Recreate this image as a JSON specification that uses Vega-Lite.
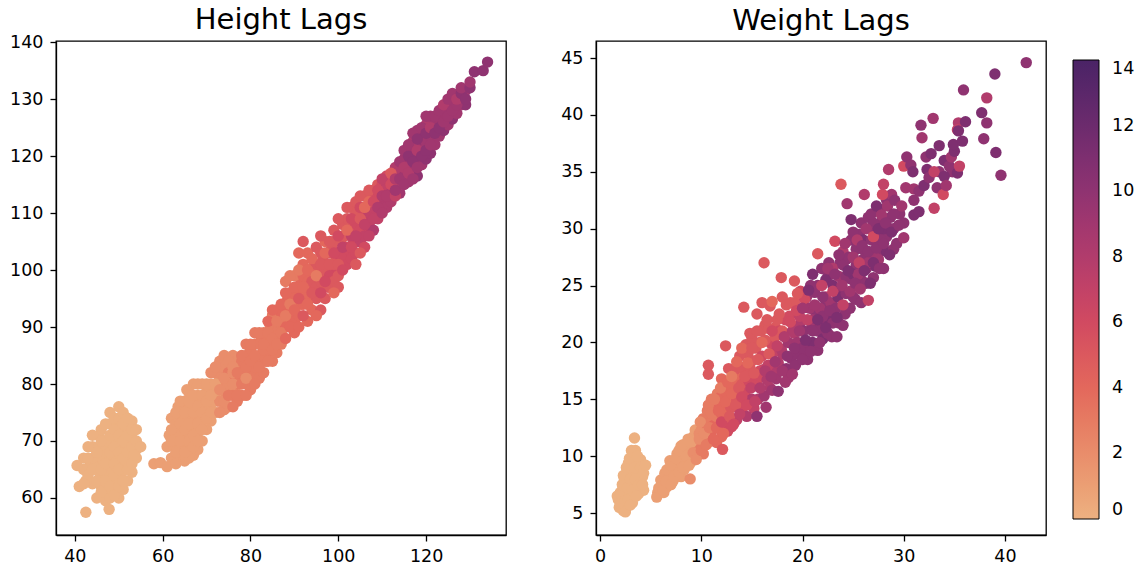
{"$schema":"https://vega.github.io/schema/vega-lite/v6.json","padding":{"left":8,"top":5,"right":5,"bottom":3},"background":"white","spacing":53,
"config":{"font":"DejaVu Sans","view":{"stroke":"#000","strokeWidth":1.3},"axis":{"grid":false,"title":null,"domainColor":"#000","domainWidth":1.3,"tickColor":"#000","tickWidth":1.3,"tickSize":6,"labelColor":"#000","labelFontSize":17.5,"labelPadding":7},"axisX":{"labelPadding":6},"title":{"fontSize":29,"fontWeight":"normal","color":"#000"}},
"datasets":{
"h":[{"x":46.5,"y":64.5,"a":0},{"x":47.5,"y":66.5,"a":0},{"x":48.5,"y":69.5,"a":0},{"x":50.5,"y":64,"a":0},{"x":50.5,"y":70,"a":0},{"x":45.5,"y":69,"a":0},{"x":45.5,"y":64.5,"a":0},{"x":43.5,"y":66,"a":0},{"x":49.5,"y":61,"a":0},{"x":52.5,"y":70,"a":0},{"x":52.5,"y":67,"a":0},{"x":48.5,"y":62.5,"a":0},{"x":46.5,"y":69,"a":0},
{"x":62.5,"y":71,"a":1},{"x":63.5,"y":72,"a":1},{"x":63.5,"y":68,"a":1},{"x":64.5,"y":74,"a":1},{"x":64.5,"y":71,"a":1},{"x":65.5,"y":69,"a":1},{"x":65.5,"y":73,"a":1},{"x":65.5,"y":76,"a":1},{"x":66.5,"y":72,"a":1},{"x":66.5,"y":74,"a":1},{"x":66.5,"y":69,"a":1},{"x":67.5,"y":72,"a":1},{"x":67.5,"y":74,"a":1},{"x":67.5,"y":77,"a":1},{"x":68.5,"y":70,"a":1},{"x":68.5,"y":74,"a":1},{"x":68.5,"y":77,"a":1},{"x":69.5,"y":74,"a":1},{"x":69.5,"y":77,"a":1},{"x":70.5,"y":76,"a":1},{"x":70.5,"y":79,"a":1},{"x":71.5,"y":77,"a":1},{"x":71.5,"y":79,"a":1},{"x":72.5,"y":77,"a":2},{"x":72.5,"y":80,"a":2},{"x":73.5,"y":78,"a":2},{"x":73.5,"y":82,"a":2},{"x":74.5,"y":78,"a":2},{"x":74.5,"y":80,"a":2},{"x":75.5,"y":79,"a":2},{"x":75.5,"y":83,"a":3},{"x":76.5,"y":79,"a":2},{"x":76.5,"y":81,"a":3},{"x":77.5,"y":81,"a":3},{"x":77.5,"y":83,"a":3},{"x":78.5,"y":81,"a":3},{"x":78.5,"y":83,"a":3},{"x":79.5,"y":82,"a":3},{"x":79.5,"y":84,"a":3},{"x":80.5,"y":82,"a":3},{"x":80.5,"y":85,"a":3},{"x":81.5,"y":84,"a":3},{"x":82.5,"y":84,"a":3},{"x":82.5,"y":88,"a":3},{"x":83.5,"y":84,"a":3},{"x":83.5,"y":88,"a":3},{"x":84.5,"y":85,"a":3},{"x":84.5,"y":90,"a":3},{"x":85.5,"y":87,"a":3},{"x":85.5,"y":91,"a":3},{"x":86.5,"y":90,"a":3},{"x":86.5,"y":88,"a":3},{"x":87.5,"y":90,"a":3},{"x":87.5,"y":93,"a":4},{"x":88.5,"y":91,"a":4},{"x":88.5,"y":95,"a":4},{"x":89.5,"y":93,"a":4},{"x":89.5,"y":91,"a":4},{"x":90.5,"y":94,"a":4},{"x":90.5,"y":96,"a":4},{"x":91.5,"y":94,"a":4},{"x":91.5,"y":98,"a":4},{"x":92.5,"y":95,"a":4},{"x":92.5,"y":98,"a":4},{"x":93.5,"y":95,"a":4},{"x":93.5,"y":99,"a":4},{"x":94.5,"y":97,"a":5},{"x":94.5,"y":101,"a":4},{"x":95.5,"y":96,"a":5},{"x":95.5,"y":100,"a":5},{"x":96.5,"y":99,"a":5},{"x":96.5,"y":102,"a":5},{"x":97.5,"y":97,"a":5},{"x":97.5,"y":101,"a":5},{"x":98.5,"y":100,"a":5},{"x":98.5,"y":104,"a":5},{"x":99.5,"y":100,"a":6},{"x":99.5,"y":102,"a":5},{"x":100.5,"y":102,"a":6},{"x":100.5,"y":105,"a":5},{"x":101.5,"y":103,"a":6},{"x":101.5,"y":106,"a":5},{"x":102.5,"y":103,"a":6},{"x":102.5,"y":107,"a":6},{"x":103.5,"y":105,"a":6},{"x":103.5,"y":108,"a":5},{"x":104.5,"y":105,"a":6},{"x":104.5,"y":109,"a":6},{"x":105.5,"y":108,"a":6},{"x":105.5,"y":111,"a":5},{"x":106.5,"y":107,"a":7},{"x":106.5,"y":110,"a":6},{"x":107.5,"y":109,"a":7},{"x":107.5,"y":111,"a":6},{"x":108.5,"y":110,"a":7},{"x":108.5,"y":113,"a":6},{"x":109.5,"y":112,"a":7},{"x":110.5,"y":112,"a":8},{"x":110.5,"y":114,"a":7},{"x":111.5,"y":114,"a":8},{"x":112.5,"y":114,"a":8},{"x":113.5,"y":115,"a":9},{"x":113.5,"y":117,"a":8},{"x":114.5,"y":115,"a":9},{"x":114.5,"y":118,"a":8},{"x":115.5,"y":117,"a":9},{"x":115.5,"y":120,"a":9},{"x":116.5,"y":119,"a":9},{"x":117.5,"y":120,"a":9},{"x":118.5,"y":120,"a":9},{"x":118.5,"y":122,"a":9},{"x":119.5,"y":122,"a":9},{"x":120.5,"y":123,"a":9},{"x":121.5,"y":124,"a":9},{"x":122.5,"y":125,"a":9},{"x":123.5,"y":126,"a":9},{"x":124.5,"y":128,"a":9},
{"x":42,"y":65,"a":0},{"x":43,"y":64,"a":0},{"x":44,"y":62.5,"a":0},{"x":44.5,"y":67,"a":0},{"x":44,"y":69,"a":0},{"x":45,"y":60,"a":0},{"x":45,"y":66,"a":0},{"x":45.5,"y":71,"a":0},{"x":46,"y":63,"a":0},{"x":46,"y":67,"a":0},{"x":46,"y":72,"a":0},{"x":47,"y":61,"a":0},{"x":47,"y":68,"a":0},{"x":47,"y":70,"a":0},{"x":48,"y":65,"a":0},{"x":48,"y":64,"a":0},{"x":48,"y":73,"a":0},{"x":48,"y":75,"a":0},{"x":49,"y":62,"a":0},{"x":49,"y":67.5,"a":0},{"x":49,"y":71,"a":0},{"x":50,"y":60,"a":0},{"x":50,"y":63.5,"a":0},{"x":50,"y":66.5,"a":0},{"x":50,"y":69.5,"a":0},{"x":50,"y":72.5,"a":0},{"x":51,"y":61.5,"a":0},{"x":51,"y":65,"a":0},{"x":51,"y":68.5,"a":0},{"x":51,"y":71.5,"a":0},{"x":52,"y":63,"a":0},{"x":52,"y":66.5,"a":0},{"x":52,"y":69.5,"a":0},{"x":52,"y":72.5,"a":0},{"x":53,"y":64.5,"a":0},{"x":53,"y":67.5,"a":0},{"x":53,"y":70.5,"a":0},{"x":53,"y":73.5,"a":0},{"x":54,"y":67,"a":0},{"x":54,"y":68.5,"a":0},{"x":47,"y":59.5,"a":0},{"x":46,"y":62,"a":0},{"x":44,"y":67,"a":0},{"x":42.5,"y":63,"a":0},{"x":42,"y":67,"a":0},
{"x":61,"y":69,"a":1},{"x":61.5,"y":71,"a":1},{"x":62,"y":67,"a":1},{"x":62,"y":74,"a":1},{"x":62.5,"y":69,"a":1},{"x":63,"y":71,"a":1},{"x":63,"y":73,"a":1},{"x":63.5,"y":76,"a":1},{"x":64,"y":67,"a":1},{"x":64,"y":69,"a":1},{"x":64,"y":71.5,"a":1},{"x":64,"y":75,"a":1},{"x":65,"y":66.5,"a":1},{"x":65,"y":70,"a":1},{"x":65,"y":74,"a":1},{"x":65,"y":77,"a":1},{"x":66,"y":68,"a":1},{"x":66,"y":71.5,"a":1},{"x":66,"y":75,"a":1},{"x":66,"y":78.5,"a":1},{"x":67,"y":67.5,"a":1},{"x":67,"y":70,"a":1},{"x":67,"y":73,"a":1},{"x":67,"y":76.5,"a":1},{"x":67,"y":80,"a":1},{"x":68,"y":68.5,"a":1},{"x":68,"y":71.5,"a":1},{"x":68,"y":75,"a":1},{"x":68,"y":78,"a":1},{"x":69,"y":70,"a":1},{"x":69,"y":73.5,"a":1},{"x":69,"y":76.5,"a":1},{"x":69,"y":80,"a":1},{"x":70,"y":72,"a":1},{"x":70,"y":75.5,"a":1},{"x":70,"y":78.5,"a":1},{"x":71,"y":73.5,"a":1},{"x":71,"y":76.5,"a":1},{"x":71,"y":80,"a":1},{"x":72,"y":75,"a":1},{"x":72,"y":78,"a":1},{"x":63,"y":69.5,"a":1},
{"x":72,"y":82,"a":2},{"x":73,"y":77,"a":2},{"x":73,"y":81,"a":2},{"x":73,"y":84,"a":2},{"x":74,"y":75.5,"a":2},{"x":74,"y":79,"a":2},{"x":74,"y":83,"a":2},{"x":75,"y":76,"a":2},{"x":75,"y":80,"a":2},{"x":75,"y":82,"a":3},{"x":76,"y":78,"a":3},{"x":76,"y":82,"a":2},{"x":76,"y":85,"a":2},{"x":77,"y":77,"a":3},{"x":77,"y":80,"a":3},{"x":77,"y":84,"a":2},{"x":78,"y":78,"a":3},{"x":78,"y":82,"a":3},{"x":78,"y":84,"a":3},{"x":79,"y":80,"a":3},{"x":79,"y":85,"a":3},{"x":79,"y":87,"a":3},{"x":80,"y":79,"a":3},{"x":80,"y":81,"a":3},{"x":80,"y":83,"a":3},{"x":80,"y":86,"a":3},{"x":81,"y":82,"a":3},{"x":81,"y":83,"a":3},{"x":81,"y":87,"a":3},{"x":81,"y":89,"a":3},{"x":82,"y":81,"a":3},{"x":82,"y":85,"a":3},{"x":82,"y":87,"a":3},{"x":83,"y":82,"a":3},{"x":83,"y":85,"a":3},{"x":83,"y":89,"a":3},{"x":84,"y":86,"a":3},{"x":84,"y":87.5,"a":3},{"x":85,"y":84,"a":3},{"x":85,"y":90,"a":3},{"x":85,"y":92,"a":3},{"x":86,"y":85.5,"a":3},{"x":86,"y":89,"a":3},{"x":86,"y":93,"a":3},{"x":87,"y":87,"a":3},{"x":87,"y":91,"a":3},{"x":87,"y":92.5,"a":4},{"x":88,"y":90,"a":4},{"x":88,"y":94,"a":4},{"x":88,"y":98,"a":3},{"x":89,"y":92,"a":4},{"x":89,"y":96,"a":4},{"x":90,"y":89,"a":4},{"x":90,"y":91,"a":4},{"x":90,"y":95,"a":4},{"x":90,"y":99,"a":3},{"x":91,"y":92,"a":4},{"x":91,"y":97,"a":4},{"x":91,"y":103,"a":4},{"x":92,"y":94,"a":4},{"x":92,"y":99,"a":4},{"x":92,"y":101,"a":4},{"x":93,"y":91,"a":4},{"x":93,"y":96,"a":4},{"x":93,"y":98,"a":4},{"x":93,"y":103,"a":4},{"x":94,"y":93,"a":4},{"x":94,"y":98,"a":5},{"x":94,"y":100,"a":4},{"x":95,"y":95,"a":5},{"x":95,"y":97,"a":5},{"x":95,"y":101,"a":5},{"x":95,"y":104,"a":5},{"x":96,"y":93,"a":5},{"x":96,"y":98,"a":5},{"x":96,"y":103,"a":5},{"x":97,"y":95,"a":5},{"x":97,"y":100,"a":5},{"x":97,"y":105,"a":4},{"x":98,"y":97,"a":5},{"x":98,"y":99,"a":6},{"x":98,"y":103,"a":5},{"x":99,"y":98,"a":5},{"x":99,"y":101,"a":5},{"x":99,"y":105,"a":5},{"x":99,"y":107,"a":5},{"x":100,"y":97,"a":5},{"x":100,"y":99,"a":5},{"x":100,"y":103,"a":6},{"x":101,"y":102,"a":6},{"x":101,"y":106,"a":5},{"x":101,"y":108,"a":5},{"x":102,"y":101,"a":6},{"x":102,"y":104,"a":6},{"x":102,"y":109,"a":5},{"x":103,"y":102,"a":6},{"x":103,"y":106,"a":7},{"x":103,"y":111,"a":5},{"x":104,"y":103,"a":6},{"x":104,"y":108,"a":6},{"x":104,"y":110,"a":5},{"x":104,"y":112,"a":5},{"x":105,"y":105,"a":7},{"x":105,"y":107,"a":6},{"x":105,"y":111,"a":6},{"x":106,"y":104,"a":6},{"x":106,"y":106,"a":7},{"x":106,"y":110,"a":6},{"x":106,"y":113,"a":5},{"x":107,"y":108,"a":7},{"x":107,"y":110,"a":7},{"x":108,"y":107,"a":8},{"x":108,"y":111,"a":7},{"x":108,"y":114,"a":5},{"x":109,"y":109,"a":7},{"x":109,"y":113,"a":6},{"x":109,"y":115,"a":5},{"x":110,"y":111,"a":8},{"x":110,"y":115,"a":6},{"x":111,"y":111,"a":8},{"x":111,"y":115,"a":7},{"x":111,"y":116.5,"a":6},{"x":112,"y":112,"a":8},{"x":112,"y":113.5,"a":8},{"x":113,"y":115,"a":8},{"x":113,"y":118,"a":8},{"x":114,"y":113.5,"a":9},{"x":114,"y":115,"a":8},{"x":114,"y":117.5,"a":8},{"x":115,"y":116.5,"a":9},{"x":115,"y":119.5,"a":9},{"x":116,"y":118.5,"a":9},{"x":116,"y":115.5,"a":9},{"x":116,"y":121,"a":8},{"x":117,"y":117.5,"a":9},{"x":117,"y":121,"a":9},{"x":117,"y":122.5,"a":8},{"x":118,"y":116.5,"a":10},{"x":118,"y":119.5,"a":10},{"x":118,"y":124.5,"a":9},{"x":119,"y":118.5,"a":9},{"x":119,"y":121.5,"a":9},{"x":119,"y":123,"a":10},{"x":120,"y":119.5,"a":10},{"x":120,"y":122.5,"a":9},{"x":120,"y":125.5,"a":8},{"x":121,"y":120.5,"a":10},{"x":121,"y":123.5,"a":9},{"x":121,"y":127,"a":9},{"x":122,"y":122,"a":9},{"x":122,"y":125.5,"a":9},{"x":123,"y":123.5,"a":9},{"x":123,"y":126.5,"a":9},{"x":124,"y":124.5,"a":10},{"x":124,"y":127.5,"a":9},{"x":125,"y":125.5,"a":9},{"x":125,"y":128.5,"a":9},{"x":126,"y":126.5,"a":10},{"x":126,"y":129.5,"a":9},{"x":127,"y":127.5,"a":9},{"x":128,"y":129,"a":9},{"x":128,"y":130,"a":10},{"x":129,"y":129,"a":10},{"x":129,"y":131.5,"a":9},
{"x":40.5,"y":65.7,"a":0},{"x":41,"y":62,"a":0},{"x":42,"y":62.5,"a":0},{"x":42.5,"y":57.5,"a":0},{"x":43,"y":69,"a":0},{"x":44,"y":71,"a":0},{"x":43,"y":67,"a":0},{"x":44,"y":65,"a":0},{"x":45,"y":63,"a":0},{"x":45,"y":68,"a":0},{"x":46,"y":61,"a":0},{"x":46,"y":65,"a":0},{"x":46,"y":70,"a":0},{"x":47,"y":66,"a":0},{"x":47,"y":63,"a":0},{"x":47,"y":73,"a":0},{"x":48,"y":60,"a":0},{"x":48,"y":62,"a":0},{"x":48,"y":68,"a":0},{"x":48,"y":71,"a":0},{"x":47.8,"y":58,"a":0},{"x":49,"y":60.5,"a":0},{"x":49,"y":64,"a":0},{"x":49,"y":66,"a":0},{"x":49,"y":69,"a":0},{"x":49,"y":72,"a":0},{"x":49,"y":74,"a":0},{"x":50,"y":62,"a":0},{"x":50,"y":65,"a":0},{"x":50,"y":68,"a":0},{"x":50,"y":71,"a":0},{"x":50,"y":76,"a":0},{"x":50,"y":74,"a":0},{"x":51,"y":63,"a":0},{"x":51,"y":67,"a":0},{"x":51,"y":70,"a":0},{"x":51,"y":73,"a":0},{"x":51,"y":75,"a":0},{"x":52,"y":65,"a":0},{"x":52,"y":68,"a":0},{"x":52,"y":71,"a":0},{"x":52,"y":74,"a":0},{"x":53,"y":66,"a":0},{"x":53,"y":69,"a":0},{"x":53,"y":72,"a":0},{"x":54,"y":70,"a":0},{"x":54,"y":72,"a":0},{"x":53.5,"y":67.5,"a":0},{"x":55,"y":69,"a":0},
{"x":58,"y":66,"a":1},{"x":59.5,"y":66.2,"a":1},{"x":61,"y":65.5,"a":1},{"x":63,"y":66,"a":1},{"x":66,"y":67,"a":1},{"x":62,"y":72,"a":1},{"x":62,"y":70,"a":1},{"x":63,"y":68,"a":1},{"x":63,"y":75,"a":1},{"x":64,"y":73,"a":1},{"x":64,"y":70,"a":1},{"x":64,"y":77,"a":1},{"x":65,"y":68,"a":1},{"x":65,"y":72,"a":1},{"x":65,"y":75,"a":1},{"x":65.5,"y":79,"a":1},{"x":66,"y":70,"a":1},{"x":66,"y":73,"a":1},{"x":66,"y":77,"a":1},{"x":67,"y":69,"a":1},{"x":67,"y":71,"a":1},{"x":67,"y":75,"a":1},{"x":67,"y":78,"a":1},{"x":68,"y":70,"a":1},{"x":68,"y":73,"a":1},{"x":68,"y":76,"a":1},{"x":68,"y":80,"a":1},{"x":69,"y":72,"a":1},{"x":69,"y":75,"a":1},{"x":69,"y":78,"a":1},{"x":70,"y":74,"a":1},{"x":70,"y":77,"a":1},{"x":70,"y":80,"a":1},{"x":71,"y":75,"a":1},{"x":71,"y":78,"a":1},{"x":72,"y":80,"a":1},
{"x":71,"y":82,"a":2},{"x":72,"y":83,"a":2},{"x":73,"y":75,"a":2},{"x":73,"y":79,"a":2},{"x":74,"y":77,"a":2},{"x":74,"y":81,"a":2},{"x":74,"y":85,"a":2},{"x":75,"y":84,"a":2},{"x":75,"y":78,"a":3},{"x":76,"y":80,"a":2},{"x":76,"y":83,"a":2},{"x":76,"y":76,"a":3},{"x":77,"y":78,"a":3},{"x":77,"y":82,"a":3},{"x":78,"y":80,"a":3},{"x":78,"y":85,"a":3},{"x":79,"y":81,"a":2},{"x":79,"y":78,"a":3},{"x":79,"y":83,"a":3},{"x":80,"y":84,"a":3},{"x":80,"y":87,"a":3},{"x":81,"y":80,"a":3},{"x":81,"y":85,"a":3},{"x":82,"y":89,"a":3},{"x":82,"y":83,"a":3},{"x":83,"y":86,"a":3},{"x":83,"y":87,"a":3},{"x":84,"y":84,"a":3},{"x":84,"y":89,"a":3},{"x":84,"y":91,"a":4},{"x":85,"y":86,"a":3},{"x":85,"y":88,"a":3},{"x":85,"y":93,"a":4},{"x":86,"y":91,"a":3},{"x":86,"y":87,"a":3},{"x":87,"y":94,"a":4},{"x":87,"y":89,"a":3},{"x":88,"y":92,"a":3},{"x":88,"y":96,"a":4},{"x":88,"y":88,"a":4},{"x":89,"y":90,"a":4},{"x":89,"y":94,"a":3},{"x":89,"y":99,"a":3},{"x":90,"y":93,"a":4},{"x":90,"y":97,"a":4},{"x":91,"y":95,"a":5},{"x":91,"y":90,"a":4},{"x":91,"y":100,"a":3},{"x":92,"y":92,"a":5},{"x":92,"y":97,"a":4},{"x":93,"y":94,"a":4},{"x":93,"y":100,"a":4},{"x":94,"y":96,"a":5},{"x":94,"y":102,"a":4},{"x":95,"y":92,"a":4},{"x":95,"y":99,"a":3},{"x":96,"y":96,"a":6},{"x":92,"y":105,"a":5},{"x":96,"y":101,"a":5},{"x":96,"y":106,"a":5},{"x":97,"y":98,"a":6},{"x":97,"y":103,"a":4},{"x":98,"y":101,"a":5},{"x":98,"y":105,"a":5},{"x":99,"y":96,"a":4},{"x":99,"y":103,"a":6},{"x":100,"y":101,"a":5},{"x":100,"y":106,"a":6},{"x":100,"y":109,"a":5},{"x":101,"y":104,"a":7},{"x":101,"y":100,"a":6},{"x":102,"y":107,"a":4},{"x":102,"y":111,"a":5},{"x":103,"y":104,"a":6},{"x":103,"y":109,"a":6},{"x":104,"y":101,"a":5},{"x":104,"y":106,"a":7},{"x":105,"y":113,"a":5},{"x":105,"y":103,"a":5},{"x":105,"y":109,"a":5},{"x":106,"y":108,"a":7},{"x":106,"y":111,"a":4},{"x":107,"y":114,"a":5},{"x":107,"y":106,"a":7},{"x":107,"y":112,"a":4},{"x":108,"y":109,"a":7},{"x":108,"y":112,"a":6},{"x":109,"y":114,"a":6},{"x":109,"y":111,"a":8},{"x":110,"y":110,"a":8},{"x":110,"y":113,"a":8},{"x":110,"y":116,"a":7},{"x":111,"y":113,"a":8},{"x":112,"y":115,"a":6},{"x":112,"y":117,"a":5},{"x":113,"y":113,"a":7},{"x":113,"y":114,"a":9},{"x":113,"y":116,"a":8},{"x":114,"y":116,"a":9},{"x":114,"y":119,"a":9},{"x":115,"y":115,"a":9},{"x":115,"y":118,"a":8},{"x":115,"y":121,"a":9},{"x":116,"y":117,"a":8},{"x":116,"y":120,"a":10},{"x":116,"y":122,"a":9},{"x":117,"y":116,"a":9},{"x":117,"y":119,"a":10},{"x":117,"y":124,"a":9},{"x":118,"y":118,"a":9},{"x":118,"y":121,"a":8},{"x":118,"y":123,"a":10},{"x":119,"y":120,"a":10},{"x":119,"y":125,"a":9},{"x":120,"y":121,"a":10},{"x":120,"y":124,"a":10},{"x":120,"y":127,"a":9},{"x":121,"y":122,"a":9},{"x":121,"y":125,"a":8},{"x":122,"y":124,"a":10},{"x":122,"y":127,"a":9},{"x":123,"y":125,"a":10},{"x":123,"y":128,"a":9},{"x":124,"y":126,"a":9},{"x":124,"y":129,"a":8},{"x":125,"y":127,"a":9},{"x":125,"y":130,"a":9},{"x":126,"y":128,"a":9},{"x":126,"y":131,"a":9},{"x":127,"y":129,"a":9},{"x":127,"y":130,"a":8},{"x":128,"y":131,"a":10},{"x":128,"y":132,"a":9},{"x":129,"y":130,"a":10},{"x":130,"y":132,"a":10},{"x":130,"y":133,"a":9},{"x":131,"y":134.8,"a":10},{"x":133,"y":135,"a":10},{"x":134,"y":136.5,"a":10}],
"w":[{"x":6.3,"y":7.6,"a":1},{"x":6.9,"y":8.3,"a":1},{"x":7.4,"y":8.9,"a":1},{"x":8.1,"y":9.8,"a":1},{"x":9.5,"y":11,"a":2},{"x":10.3,"y":11.4,"a":2},{"x":10.7,"y":12.2,"a":3},{"x":11.1,"y":14.3,"a":3},{"x":11.7,"y":13.3,"a":4},{"x":12.2,"y":14.3,"a":4},{"x":12.7,"y":13.2,"a":5},{"x":13,"y":14.3,"a":5},{"x":13.3,"y":15.8,"a":4},{"x":13.7,"y":17.5,"a":4},{"x":14.2,"y":14.8,"a":6},{"x":14.4,"y":16.5,"a":5},{"x":14.6,"y":19,"a":5},{"x":15,"y":17,"a":5},{"x":15.2,"y":14.2,"a":7},{"x":15.6,"y":16.8,"a":6},{"x":15.8,"y":20,"a":5},{"x":16.1,"y":17.6,"a":7},{"x":16.3,"y":21.5,"a":5},{"x":16.8,"y":16,"a":8},{"x":16.9,"y":19.9,"a":6},{"x":17.2,"y":17.5,"a":8},{"x":17.3,"y":21.3,"a":5},{"x":17.7,"y":21,"a":6},{"x":18,"y":19,"a":8},{"x":18.3,"y":22,"a":6},{"x":18.6,"y":16.9,"a":9},{"x":18.8,"y":23.5,"a":5},{"x":19.2,"y":20.8,"a":8},{"x":19.6,"y":19,"a":10},{"x":19.7,"y":21.5,"a":8},{"x":20,"y":22,"a":8},{"x":20.3,"y":18.9,"a":10},{"x":20.4,"y":24,"a":9},{"x":20.9,"y":21.3,"a":10},{"x":21.2,"y":22.8,"a":10},{"x":21.5,"y":25,"a":10},{"x":21.8,"y":21.5,"a":10},{"x":22.2,"y":23.2,"a":10},{"x":22.5,"y":25.8,"a":10},{"x":22.6,"y":22,"a":11},{"x":23,"y":23.2,"a":10},{"x":23.3,"y":24.5,"a":10},{"x":23.6,"y":21.7,"a":10},{"x":23.7,"y":27,"a":10},{"x":24.2,"y":22.5,"a":10},{"x":24.3,"y":27.3,"a":10},{"x":24.7,"y":25.6,"a":10},{"x":24.8,"y":29,"a":10},{"x":25.2,"y":23.8,"a":10},{"x":25.3,"y":26.8,"a":10},{"x":25.6,"y":29.5,"a":10},{"x":25.8,"y":25.5,"a":10},{"x":26.2,"y":28,"a":10},{"x":26.3,"y":26.5,"a":10},{"x":26.8,"y":27.5,"a":10},{"x":26.8,"y":30,"a":10},{"x":27.2,"y":26.7,"a":11},{"x":27.3,"y":29.5,"a":10},{"x":27.7,"y":28,"a":10},{"x":27.9,"y":30.8,"a":10},{"x":28.3,"y":29.3,"a":10},{"x":28.6,"y":30,"a":10},{"x":29,"y":30,"a":10},{"x":29.6,"y":31.3,"a":10},{"x":30,"y":30.5,"a":10},{"x":31,"y":32.5,"a":10},{"x":33.5,"y":35,"a":10},{"x":34,"y":36,"a":11},{"x":34.8,"y":35,"a":10},
{"x":1.9,"y":5.5,"a":0},{"x":2,"y":6.8,"a":0},{"x":2.2,"y":7,"a":0},{"x":2.4,"y":6,"a":0},{"x":2.4,"y":8,"a":0},{"x":2.6,"y":5.5,"a":0},{"x":2.6,"y":8.4,"a":0},{"x":2.8,"y":7,"a":0},{"x":2.8,"y":9.4,"a":0},{"x":3,"y":6.5,"a":0},{"x":3,"y":8.7,"a":0},{"x":3,"y":9.6,"a":0},{"x":3.1,"y":10.5,"a":0},{"x":3.2,"y":5.9,"a":0},{"x":3.2,"y":7.6,"a":0},{"x":3.4,"y":8.4,"a":0},{"x":3.5,"y":9.5,"a":0},{"x":3.5,"y":10.5,"a":0},{"x":3.6,"y":7.2,"a":0},{"x":3.7,"y":8.7,"a":0},{"x":3.8,"y":6.7,"a":0},{"x":4,"y":8,"a":0},{"x":4,"y":9.7,"a":0},{"x":4.2,"y":8.2,"a":0},{"x":4.3,"y":7,"a":0},{"x":2.3,"y":5.2,"a":0},{"x":2.7,"y":6.7,"a":0},{"x":1.7,"y":6.5,"a":0},
{"x":5.7,"y":6.8,"a":1},{"x":6,"y":7.3,"a":1},{"x":6,"y":7.9,"a":1},{"x":6.3,"y":6.8,"a":1},{"x":6.4,"y":8.5,"a":1},{"x":6.6,"y":7.3,"a":1},{"x":6.8,"y":8,"a":1},{"x":6.9,"y":9.6,"a":1},{"x":7.1,"y":8.6,"a":1},{"x":7.2,"y":7.8,"a":1},{"x":7.3,"y":9.5,"a":1},{"x":7.5,"y":8.2,"a":1},{"x":7.6,"y":9,"a":1},{"x":7.6,"y":10.2,"a":1},{"x":8,"y":8.2,"a":1},{"x":8,"y":9.5,"a":1},{"x":8,"y":10.9,"a":1},{"x":8.3,"y":8.8,"a":1},{"x":8.4,"y":10.4,"a":1},{"x":8.6,"y":9.5,"a":1},{"x":8.7,"y":11.5,"a":1},{"x":9,"y":9.5,"a":1},{"x":9,"y":10.5,"a":1},{"x":9.2,"y":11.7,"a":1},{"x":9.4,"y":12.3,"a":1},
{"x":9.6,"y":10.3,"a":2},{"x":9.7,"y":10.9,"a":3},{"x":9.8,"y":12,"a":2},{"x":10,"y":11.2,"a":3},{"x":10,"y":12.3,"a":2},{"x":10.2,"y":10.2,"a":3},{"x":10.2,"y":13.3,"a":3},{"x":10.4,"y":11.6,"a":3},{"x":10.5,"y":12.8,"a":3},{"x":10.6,"y":14,"a":3},{"x":10.8,"y":11.3,"a":3},{"x":11,"y":12.2,"a":4},{"x":11,"y":13,"a":3},{"x":11,"y":15,"a":3},{"x":11.2,"y":12.7,"a":4},{"x":11.3,"y":14,"a":4},{"x":11.5,"y":11.2,"a":4},{"x":11.5,"y":13.5,"a":3},{"x":11.6,"y":15.5,"a":3},{"x":11.8,"y":12.4,"a":4},{"x":11.8,"y":14.7,"a":4},{"x":12,"y":11.7,"a":4},{"x":12,"y":13.7,"a":4},{"x":12,"y":15.3,"a":4},{"x":12,"y":16.8,"a":4},{"x":12.3,"y":12.8,"a":5},{"x":12.4,"y":13.8,"a":4},{"x":12.5,"y":15.6,"a":4},{"x":12.6,"y":12.2,"a":6},{"x":12.7,"y":17.7,"a":5},{"x":12.9,"y":14.3,"a":5},{"x":13,"y":12.6,"a":6},{"x":13,"y":16,"a":4},{"x":13.2,"y":14.6,"a":5},{"x":13.3,"y":17.6,"a":5},{"x":13.5,"y":13.2,"a":7},{"x":13.5,"y":15.3,"a":5},{"x":13.6,"y":16.7,"a":4},{"x":13.8,"y":18.8,"a":5},{"x":14,"y":14,"a":6},{"x":14,"y":16.3,"a":5},{"x":14,"y":17.8,"a":5},{"x":14.3,"y":15.5,"a":6},{"x":14.4,"y":19.8,"a":5},{"x":14.5,"y":13.5,"a":8},{"x":14.7,"y":16.6,"a":6},{"x":14.8,"y":17.8,"a":5},{"x":15,"y":15,"a":8},{"x":15,"y":18.4,"a":5},{"x":15,"y":20.3,"a":5},{"x":15.3,"y":16.2,"a":6},{"x":15.4,"y":19.5,"a":5},{"x":15.5,"y":22.5,"a":5},{"x":15.6,"y":15,"a":8},{"x":15.8,"y":17.5,"a":6},{"x":15.9,"y":21,"a":5},{"x":16,"y":18.8,"a":6},{"x":16.2,"y":15.3,"a":9},{"x":16.3,"y":20.2,"a":5},{"x":16.5,"y":16.7,"a":8},{"x":16.6,"y":18,"a":7},{"x":16.7,"y":21.2,"a":5},{"x":16.8,"y":23.2,"a":5},{"x":17,"y":15.8,"a":9},{"x":17,"y":19,"a":7},{"x":17.3,"y":20.5,"a":5},{"x":17.4,"y":16.8,"a":9},{"x":17.5,"y":22,"a":5},{"x":17.6,"y":18.2,"a":8},{"x":17.9,"y":19.4,"a":8},{"x":18,"y":21,"a":5},{"x":18,"y":24,"a":5},{"x":18.3,"y":16.5,"a":9},{"x":18.4,"y":17.7,"a":10},{"x":18.6,"y":20,"a":9},{"x":18.7,"y":22.3,"a":6},{"x":18.9,"y":18.6,"a":10},{"x":19,"y":21,"a":8},{"x":19.2,"y":23.5,"a":5},{"x":19.3,"y":18,"a":10},{"x":19.5,"y":20,"a":9},{"x":19.7,"y":22.3,"a":7},{"x":19.8,"y":24.5,"a":6},{"x":20,"y":19.5,"a":10},{"x":20.1,"y":21,"a":10},{"x":20.2,"y":23.8,"a":6},{"x":20.5,"y":18.5,"a":10},{"x":20.5,"y":20,"a":10},{"x":20.7,"y":23,"a":9},{"x":20.8,"y":25,"a":10},{"x":21,"y":20,"a":11},{"x":21,"y":22,"a":9},{"x":21.2,"y":24.4,"a":10},{"x":21.5,"y":19.3,"a":10},{"x":21.5,"y":21,"a":10},{"x":21.7,"y":23,"a":9},{"x":21.9,"y":26.5,"a":10},{"x":22,"y":20.3,"a":11},{"x":22,"y":22.3,"a":10},{"x":22.3,"y":24,"a":8},{"x":22.3,"y":25.5,"a":11},{"x":22.5,"y":20.8,"a":10},{"x":22.6,"y":27,"a":10},{"x":22.8,"y":23.5,"a":9},{"x":23,"y":21.7,"a":10},{"x":23,"y":25,"a":11},{"x":23,"y":26.5,"a":8},{"x":23.3,"y":23,"a":10},{"x":23.5,"y":24,"a":11},{"x":23.6,"y":25.8,"a":9},{"x":24,"y":21.5,"a":10},{"x":24,"y":26.8,"a":10},{"x":24,"y":28,"a":8},{"x":24.3,"y":24.3,"a":10},{"x":24.3,"y":25.8,"a":10},{"x":24.6,"y":27.5,"a":10},{"x":24.7,"y":23,"a":10},{"x":25,"y":24,"a":10},{"x":25,"y":26,"a":11},{"x":25,"y":29.7,"a":10},{"x":25.3,"y":28.2,"a":10},{"x":25.5,"y":26,"a":9},{"x":25.8,"y":30.5,"a":10},{"x":25.8,"y":23.5,"a":10},{"x":26,"y":27.3,"a":10},{"x":26,"y":29,"a":11},{"x":26.3,"y":25.2,"a":10},{"x":26.5,"y":27,"a":9},{"x":26.5,"y":31,"a":10},{"x":26.8,"y":29,"a":10},{"x":27,"y":25.7,"a":10},{"x":27,"y":28,"a":9},{"x":27,"y":30.5,"a":10},{"x":27.5,"y":27.3,"a":9},{"x":27.7,"y":29,"a":10},{"x":27.7,"y":31.7,"a":10},{"x":28,"y":26.5,"a":10},{"x":28,"y":30,"a":11},{"x":28.3,"y":28,"a":11},{"x":28.3,"y":32.5,"a":10},{"x":28.7,"y":31,"a":10},{"x":28.8,"y":33,"a":9},{"x":29,"y":28.2,"a":10},
{"x":1.8,"y":6.2,"a":0},{"x":2,"y":5.7,"a":0},{"x":2.1,"y":6.6,"a":0},{"x":2.2,"y":7.5,"a":0},{"x":2.3,"y":8.3,"a":0},{"x":2.5,"y":6.1,"a":0},{"x":2.5,"y":5.1,"a":0},{"x":2.6,"y":9,"a":0},{"x":2.7,"y":7.2,"a":0},{"x":2.8,"y":6.2,"a":0},{"x":2.9,"y":9.8,"a":0},{"x":3,"y":8,"a":0},{"x":3,"y":5.7,"a":0},{"x":3.2,"y":7,"a":0},{"x":3.3,"y":10.3,"a":0},{"x":3.4,"y":9,"a":0},{"x":3.4,"y":11.6,"a":0},{"x":3.5,"y":8,"a":0},{"x":3.6,"y":6.5,"a":0},{"x":3.7,"y":10,"a":0},{"x":3.8,"y":7.5,"a":0},{"x":4,"y":9,"a":0},{"x":4.2,"y":7.5,"a":0},{"x":4.3,"y":8.5,"a":0},{"x":4.5,"y":9.2,"a":0},
{"x":5.6,"y":6.4,"a":1},{"x":5.8,"y":7.2,"a":1},{"x":6.2,"y":7,"a":1},{"x":6.5,"y":7.8,"a":1},{"x":6.6,"y":8.8,"a":1},{"x":7,"y":7.5,"a":1},{"x":7,"y":9.2,"a":1},{"x":7.3,"y":8.2,"a":1},{"x":7.5,"y":9.8,"a":1},{"x":7.8,"y":8.6,"a":1},{"x":7.8,"y":10.5,"a":1},{"x":8.2,"y":9,"a":1},{"x":8.2,"y":11,"a":1},{"x":8.5,"y":10,"a":1},{"x":8.8,"y":9.2,"a":1},{"x":8.9,"y":8,"a":2},{"x":9,"y":11.2,"a":1},{"x":9.2,"y":10.3,"a":2},{"x":9.5,"y":9.7,"a":2},{"x":9.8,"y":11.5,"a":2},{"x":9.9,"y":13,"a":2},{"x":10,"y":10.5,"a":3},{"x":10.3,"y":12,"a":2},{"x":10.5,"y":11,"a":3},{"x":10.7,"y":14.5,"a":3},{"x":10.7,"y":17.2,"a":5},{"x":10.7,"y":18,"a":5},{"x":10.8,"y":12.5,"a":3},{"x":11,"y":13.8,"a":3},{"x":11.2,"y":11.5,"a":4},{"x":11.3,"y":15,"a":3},{"x":11.5,"y":12.5,"a":4},{"x":11.7,"y":14,"a":4},{"x":11.9,"y":16,"a":3},{"x":12,"y":13,"a":6},{"x":12.1,"y":10.6,"a":5},{"x":12.2,"y":12,"a":4},{"x":12.4,"y":14.8,"a":4},{"x":12.4,"y":19.7,"a":5},{"x":12.6,"y":16.5,"a":4},{"x":12.8,"y":13.5,"a":5},{"x":13,"y":15.5,"a":4},{"x":13,"y":17,"a":3},{"x":13.2,"y":12.8,"a":6},{"x":13.4,"y":14.5,"a":5},{"x":13.5,"y":18.3,"a":4},{"x":13.7,"y":16,"a":5},{"x":13.8,"y":13.7,"a":7},{"x":14,"y":15.2,"a":6},{"x":14,"y":19.5,"a":4},{"x":14.2,"y":23.1,"a":5},{"x":14.3,"y":17,"a":5},{"x":14.5,"y":14.5,"a":6},{"x":14.6,"y":18.2,"a":4},{"x":14.8,"y":20.8,"a":5},{"x":14.9,"y":16,"a":7},{"x":15,"y":19.5,"a":5},{"x":15.2,"y":17.3,"a":5},{"x":15.3,"y":14.8,"a":7},{"x":15.5,"y":21,"a":5},{"x":15.5,"y":13.5,"a":10},{"x":15.6,"y":18.5,"a":5},{"x":15.8,"y":16,"a":8},{"x":16,"y":20,"a":4},{"x":16,"y":23.5,"a":5},{"x":16.2,"y":27,"a":5},{"x":16.3,"y":17.5,"a":8},{"x":16.4,"y":14.3,"a":9},{"x":16.5,"y":22,"a":5},{"x":16.7,"y":19,"a":5},{"x":16.9,"y":17,"a":9},{"x":17,"y":21,"a":6},{"x":17,"y":23.6,"a":4},{"x":17.3,"y":18.3,"a":9},{"x":17.5,"y":19.7,"a":7},{"x":17.6,"y":15.7,"a":10},{"x":17.7,"y":22.5,"a":5},{"x":17.9,"y":25.7,"a":5},{"x":18,"y":17.5,"a":9},{"x":18.2,"y":20.5,"a":8},{"x":18.4,"y":23.3,"a":5},{"x":18.5,"y":18.8,"a":10},{"x":18.8,"y":21.8,"a":6},{"x":19,"y":17.2,"a":9},{"x":19.2,"y":25.4,"a":5},{"x":19.2,"y":19.5,"a":10},{"x":19.4,"y":22.8,"a":6},{"x":19.5,"y":24.3,"a":5},{"x":19.7,"y":21,"a":9},{"x":20,"y":18.5,"a":10},{"x":20,"y":23,"a":9},{"x":20.3,"y":20.2,"a":11},{"x":20.5,"y":22,"a":7},{"x":20.6,"y":24.6,"a":11},{"x":20.8,"y":19.2,"a":10},{"x":21,"y":21,"a":10},{"x":21,"y":26,"a":11},{"x":21.2,"y":23.3,"a":9},{"x":21.5,"y":27.8,"a":5},{"x":21.5,"y":22,"a":11},{"x":21.7,"y":20,"a":10},{"x":21.9,"y":25,"a":7},{"x":22,"y":24,"a":10},{"x":22.3,"y":21.3,"a":11},{"x":22.5,"y":26.5,"a":9},{"x":22.7,"y":22.8,"a":10},{"x":22.9,"y":20.5,"a":10},{"x":23,"y":24.5,"a":7},{"x":23.2,"y":28.9,"a":6},{"x":23.2,"y":26,"a":10},{"x":23.4,"y":20.5,"a":10},{"x":23.4,"y":22.2,"a":11},{"x":23.6,"y":27.7,"a":10},{"x":23.8,"y":33.9,"a":5},{"x":23.9,"y":25,"a":9},{"x":24,"y":23.3,"a":7},{"x":24.2,"y":28.7,"a":9},{"x":24.4,"y":32.2,"a":9},{"x":24.5,"y":26.3,"a":11},{"x":24.7,"y":24.5,"a":9},{"x":24.8,"y":30.8,"a":11},{"x":25,"y":27.5,"a":9},{"x":25.2,"y":25.2,"a":10},{"x":25.4,"y":29,"a":8},{"x":25.6,"y":27,"a":7},{"x":25.7,"y":24.7,"a":9},{"x":25.9,"y":28.5,"a":10},{"x":26.1,"y":33,"a":8},{"x":26.1,"y":26.3,"a":11},{"x":26.3,"y":30,"a":9},{"x":26.5,"y":23.7,"a":7},{"x":26.5,"y":28,"a":10},{"x":26.7,"y":25.2,"a":11},{"x":26.8,"y":31.3,"a":10},{"x":27,"y":29.3,"a":6},{"x":27,"y":27,"a":11},{"x":27.3,"y":32,"a":11},{"x":27.3,"y":28.3,"a":10},{"x":27.5,"y":30,"a":11},{"x":27.6,"y":26.5,"a":10},{"x":27.8,"y":31.2,"a":9},{"x":27.9,"y":33,"a":6},{"x":28,"y":33.9,"a":7},{"x":28,"y":28.7,"a":10},{"x":28.2,"y":30.5,"a":10},{"x":28.4,"y":32,"a":9},{"x":28.5,"y":35.2,"a":8},{"x":28.6,"y":27.7,"a":11},{"x":28.8,"y":29.7,"a":11},{"x":29,"y":31.3,"a":10},{"x":29.1,"y":32.5,"a":10},{"x":29.3,"y":28.7,"a":10},{"x":29.5,"y":30.3,"a":10},{"x":29.8,"y":32,"a":9},{"x":30,"y":35.5,"a":6},{"x":30,"y":29.2,"a":9},{"x":30.2,"y":33.6,"a":9},{"x":30.3,"y":36.3,"a":10},{"x":30.7,"y":35.6,"a":10},{"x":30.9,"y":35,"a":11},{"x":31,"y":31.2,"a":11},{"x":31,"y":33.5,"a":9},{"x":31.5,"y":31.5,"a":11},{"x":31.5,"y":33.3,"a":10},{"x":31.7,"y":39.1,"a":10},{"x":31.8,"y":38,"a":9},{"x":32,"y":33.8,"a":11},{"x":32.2,"y":36.3,"a":10},{"x":32.3,"y":35.2,"a":11},{"x":32.5,"y":34.5,"a":10},{"x":32.7,"y":36.6,"a":11},{"x":32.9,"y":39.7,"a":9},{"x":33,"y":31.8,"a":7},{"x":33,"y":35,"a":7},{"x":33.3,"y":33.6,"a":10},{"x":33.5,"y":37.3,"a":11},{"x":33.9,"y":33,"a":6},{"x":34,"y":34.6,"a":11},{"x":34.2,"y":33.8,"a":9},{"x":34.5,"y":35.5,"a":10},{"x":34.7,"y":36.3,"a":9},{"x":35,"y":36.8,"a":11},{"x":34.9,"y":37.4,"a":11},{"x":35.3,"y":34.9,"a":11},{"x":35.4,"y":39.3,"a":8},{"x":35.3,"y":38.7,"a":7},{"x":35.4,"y":38.6,"a":11},{"x":35.5,"y":35.5,"a":7},{"x":35.8,"y":37.7,"a":11},{"x":35.9,"y":42.2,"a":10},{"x":36.1,"y":39.4,"a":11},{"x":37.7,"y":40.2,"a":11},{"x":37.9,"y":37.9,"a":10},{"x":38.2,"y":41.5,"a":8},{"x":38.2,"y":39.3,"a":10},{"x":39,"y":43.6,"a":11},{"x":39.1,"y":36.7,"a":11},{"x":39.6,"y":34.7,"a":10},{"x":42.1,"y":44.6,"a":10}]},
"hconcat":[
{"title":{"text":"Height Lags","offset":-2},"width":450,"height":494,"data":{"name":"h"},"mark":{"type":"circle","size":130,"opacity":1},
"encoding":{"x":{"field":"x","type":"quantitative","scale":{"domain":[35.7,138.2],"nice":false,"zero":false},"axis":{"values":[40,60,80,100,120]}},
"y":{"field":"y","type":"quantitative","scale":{"domain":[53.5,140.2],"nice":false,"zero":false},"axis":{"values":[60,70,80,90,100,110,120,130,140]}},
"color":{"field":"a","type":"quantitative","scale":{"domain":[0,14],"range":["#edb181","#e98d6b","#e3685c","#d14a61","#b13c6c","#8f3371","#6c2b6d","#4a2366"]},"legend":{"title":null,"orient":"none","legendX":1017,"legendY":19,"gradientLength":459,"gradientThickness":26,"gradientStrokeColor":"#000","gradientStrokeWidth":1,"values":[0,2,4,6,8,10,12,14],"labelFontSize":17.5,"labelColor":"#000","labelOffset":13,"labelBaseline":"middle","encode":{"labels":{"update":{"dy":{"signal":"datum.value>=14?-9:(datum.value<=0?8:0)"}}}}}}}},
{"title":{"text":"Weight Lags","offset":5},"width":450,"height":494,"data":{"name":"w"},"mark":{"type":"circle","size":130,"opacity":1},
"encoding":{"x":{"field":"x","type":"quantitative","scale":{"domain":[-0.4,44.05],"nice":false,"zero":false},"axis":{"values":[0,10,20,30,40]}},
"y":{"field":"y","type":"quantitative","scale":{"domain":[3.07,46.5],"nice":false,"zero":false},"axis":{"values":[5,10,15,20,25,30,35,40,45]}},
"color":{"field":"a","type":"quantitative","scale":{"domain":[0,14],"range":["#edb181","#e98d6b","#e3685c","#d14a61","#b13c6c","#8f3371","#6c2b6d","#4a2366"]}}}}
]}
